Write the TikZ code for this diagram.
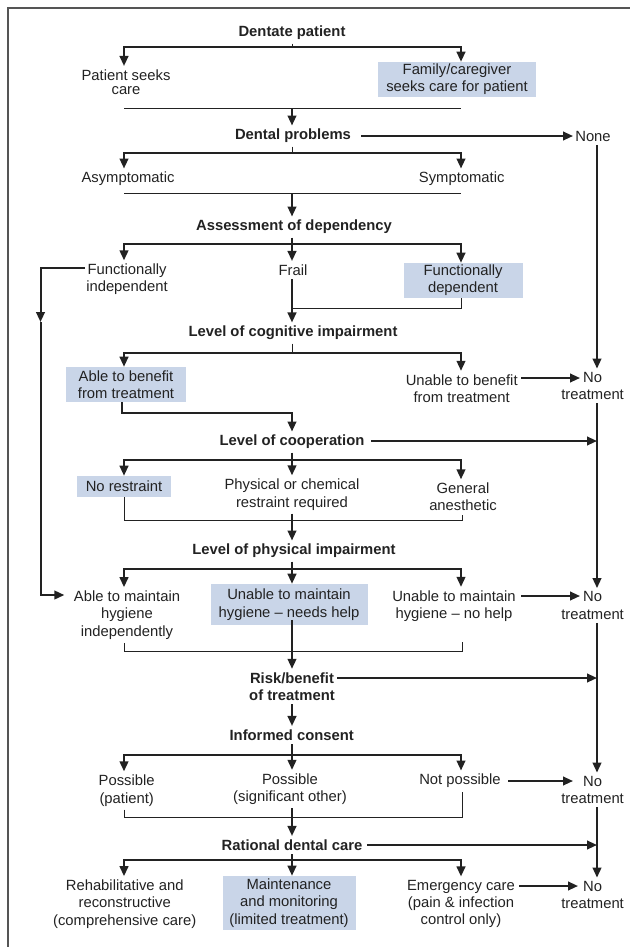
\documentclass[tikz,border=0pt]{standalone}
\usepackage{fontspec}
\setmainfont{Liberation Sans}
\usetikzlibrary{arrows.meta,calc}
\definecolor{hlblue}{HTML}{C9D5E8}
\definecolor{lc}{HTML}{222222}
\definecolor{fc}{HTML}{555555}
\newcommand\fsz{\fontsize{11.1pt}{13pt}\selectfont}
\begin{document}
\begin{tikzpicture}[x=0.75pt,y=-0.75pt,
  >={Triangle[length=7.5pt,width=6.5pt]},
  txt/.style={font=\fsz, align=center, inner xsep=1pt, inner ysep=2.5pt, text=lc},
  bld/.style={txt, font=\fsz\bfseries},
  hl/.style={txt, fill=hlblue, inner sep=0pt},
  thk/.style={line width=1.5pt, draw=lc},
  thn/.style={line width=0.75pt, draw=lc},
  arr/.style={thk, ->}]
\useasboundingbox (0,0) rectangle (630,947);
\draw[line width=1.1pt, draw=fc] (8,947) -- (8,8) -- (630,8);
\coordinate (colx) at (597,0);

% ---------- Level 1
\node[bld] (dp) at (292,33) {Dentate patient};
\node[txt, font=\fontsize{11.1pt}{10.5pt}\selectfont] (ps) at (126,82) {Patient seeks\\care};
\node[hl, minimum width=118.2pt, minimum height=26.25pt] (fam) at (457,79.5) {Family/caregiver\\seeks care for patient};
\coordinate (j1) at (292,47); \coordinate (l1) at (124,47); \coordinate (r1) at (461,47);
\draw[thn] (dp.south -| j1) -- (j1);
\draw[thk,<->] (l1 |- ps.north) -- (l1) -- (r1) -- (r1 |- fam.north);
\coordinate (jl1) at (124,108); \coordinate (jr1) at (461,108); \coordinate (s1) at (292,108);
\draw[thn] (jl1) -- (jr1);

% ---------- Level 2
\node[bld] (dprob) at (293,136) {Dental problems};
\node[txt] (none) at (593,136) {None};
\draw[arr] (s1) -- (dprob.north -| s1);
\coordinate (a0s) at (361,136); \coordinate (a0e) at (573,136);
\draw[arr] (a0s) -- (a0e);
\coordinate (j2) at (292,153); \coordinate (l2) at (124,153); \coordinate (r2) at (461,153);
\draw[thn] (dprob.south -| j2) -- (j2);
\node[txt] (asym) at (128,179) {Asymptomatic};
\node[txt] (sym) at (461.7,179) {Symptomatic};
\draw[thk,<->] (l2 |- asym.north) -- (l2) -- (r2) -- (r2 |- sym.north);
\coordinate (jl2) at (124,193); \coordinate (jr2) at (461,193); \coordinate (s2) at (292,193);
\draw[thn] (jl2) -- (jr2);

% ---------- Level 3
\node[bld] (assess) at (294,227) {Assessment of dependency};
\draw[arr] (s2) -- (assess.north -| s2);
\coordinate (j3) at (292,244); \coordinate (l3) at (124,244); \coordinate (r3) at (461,244);
\draw[thk] (assess.south -| j3) -- (j3);
\node[txt] (fi) at (127,279.5) {Functionally\\independent};
\node[txt] (frail) at (293,270) {Frail};
\node[hl, minimum width=89.25pt, minimum height=26.25pt] (fd) at (463,280.5) {Functionally\\dependent};
\draw[thk,<->] (l3 |- fi.north) -- (l3) -- (r3) -- (r3 |- fd.north);
\draw[arr] (j3) -- (frail.north -| j3);

% left bypass to "Able to maintain hygiene"
\coordinate (fc1) at (40.5,268); \coordinate (fc2) at (40.5,322); \coordinate (fc3) at (40.5,595);

% ---------- Level 4
\node[bld] (cog) at (293,333) {Level of cognitive impairment};
\draw[arr] (frail.south -| j3) -- (cog.north -| j3);
\coordinate (fdk) at (292,308);
\draw[thn] (fd.south -| r3) -- (r3 |- fdk) -- (fdk);
\coordinate (j4) at (292,353); \coordinate (l4) at (124,353); \coordinate (r4) at (461,353);
\draw[thn] (cog.south -| j4) -- (j4);
\node[hl, minimum width=89.9pt, minimum height=26.25pt] (able) at (126,384.5) {Able to benefit\\from treatment};
\node[txt] (unable) at (461.7,388.5) {Unable to benefit\\from treatment};
\node[txt] (nt1) at (592.6,386) {No\\treatment};
\draw[thk,<->] (l4 |- able.north) -- (l4) -- (r4) -- (r4 |- unable.north);
\coordinate (a1s) at (521,378); \coordinate (a1e) at (580,378);
\draw[arr] (a1s) -- (a1e);
\draw[arr] (none.south -| colx) -- (nt1.north -| colx);
\coordinate (aj1) at (122,413); \coordinate (aj2) at (292,413);

% ---------- Level 5
\node[bld] (coop) at (292,442) {Level of cooperation};
\draw[arr] (able.south -| aj1) -- (aj1) -- (aj2) -- (coop.north -| aj2);
\coordinate (a6s) at (371,441);
\draw[arr] (a6s) -- (a6s -| colx);
\coordinate (j5) at (292,460); \coordinate (l5) at (124,460); \coordinate (r5) at (461,460);
\draw[thk] (coop.south -| j5) -- (j5);
\node[hl, minimum width=70.5pt, minimum height=15.75pt] (nores) at (124,486.5) {No restraint};
\node[txt] (phys) at (292,494.5) {Physical or chemical\\restraint required};
\node[txt] (ga) at (463,497) {General\\anesthetic};
\draw[thk,<->] (l5 |- nores.north) -- (l5) -- (r5) -- (r5 |- ga.north);
\draw[arr] (j5) -- (phys.north -| j5);
\coordinate (jl5) at (124,520); \coordinate (jr5) at (462,520);
\draw[thn] (nores.south -| jl5) -- (jl5) -- (jr5) -- (ga.south -| jr5);

% ---------- Level 6
\node[bld] (phy) at (294,551) {Level of physical impairment};
\draw[arr] (phys.south -| j5) -- (phy.north -| j5);
\coordinate (j6) at (292,569); \coordinate (l6) at (124,569); \coordinate (r6) at (461,569);
\draw[thk] (phy.south -| j6) -- (j6);
\node[txt] (atm) at (127,615) {Able to maintain\\hygiene\\independently};
\node[hl, minimum width=117.75pt, minimum height=30.75pt] (unh) at (289,604.5) {Unable to maintain\\hygiene – needs help};
\node[txt] (nh) at (454,606) {Unable to maintain\\hygiene – no help};
\node[txt] (nt2) at (592.6,605.5) {No\\treatment};
\draw[thk,<->] (l6 |- atm.north) -- (l6) -- (r6) -- (r6 |- nh.north);
\draw[arr] (j6) -- (unh.north -| j6);
\draw[arr] (fi.west |- fc1) -- (fc1) -- (fc2);
\draw[arr] (fc2) -- (fc3) -- ([xshift=-6pt]atm.west |- fc3);
\coordinate (a2s) at (521,596); \coordinate (a2e) at (580,596);
\draw[arr] (a2s) -- (a2e);
\draw[thk] (nt1.south -| colx) -- (a6s -| colx);
\draw[arr] (a6s -| colx) -- (nt2.north -| colx);
\coordinate (jl6) at (124,651); \coordinate (jr6) at (462,651); \coordinate (jr6t) at (462,642);
\draw[thn] (atm.south -| jl6) -- (jl6) -- (jr6) -- (jr6t);

% ---------- Level 7
\node[bld] (risk) at (292,686.5) {Risk/benefit\\of treatment};
\draw[arr] ([yshift=4pt]unh.south -| j6) -- (risk.north -| j6);
\coordinate (a3s) at (337,678);
\draw[arr] (a3s) -- (a3s -| colx);
\node[bld] (ic) at (291.7,735) {Informed consent};
\coordinate (j7) at (292,755); \coordinate (l7) at (124,755); \coordinate (r7) at (461,755);
\draw[arr] (risk.south -| j7) -- (ic.north -| j7);
\draw[thk] (ic.south -| j7) -- (j7);
\node[txt] (pp) at (126.7,790.5) {Possible\\(patient)};
\node[txt] (pso) at (290,789) {Possible\\(significant other)};
\node[txt] (np) at (460,781) {Not possible};
\node[txt] (nt3) at (592.6,790) {No\\treatment};
\draw[thk,<->] (l7 |- pp.north) -- (l7) -- (r7) -- (r7 |- np.north);
\draw[arr] (j7) -- (pso.north -| j7);
\coordinate (a4s) at (508,781); \coordinate (a4e) at (573,781);
\draw[arr] (a4s) -- (a4e);
\draw[arr] (nt2.south -| colx) -- (nt3.north -| colx);
\coordinate (jl7) at (124,817); \coordinate (jr7) at (462,817);
\draw[thn] (pp.south -| jl7) -- (jl7) -- (jr7) -- (np.south -| jr7);

% ---------- Level 8
\node[bld] (rdc) at (292,845) {Rational dental care};
\draw[arr] (pso.south -| j7) -- (rdc.north -| j7);
\coordinate (a7s) at (367,845);
\draw[arr] (a7s) -- (a7s -| colx);
\coordinate (j8) at (292,860); \coordinate (l8) at (124,860); \coordinate (r8) at (461,860);
\draw[thk] (rdc.south -| j8) -- (j8);
\node[txt] (rehab) at (124.7,904) {Rehabilitative and\\reconstructive\\(comprehensive care)};
\node[hl, minimum width=99.75pt, minimum height=40.5pt] (maint) at (289,903) {Maintenance\\and monitoring\\(limited treatment)};
\node[txt] (em) at (461,904) {Emergency care\\(pain \& infection\\control only)};
\node[txt] (nt4) at (592.6,895) {No\\treatment};
\draw[thk,<->] (l8 |- rehab.north) -- (l8) -- (r8) -- (r8 |- em.north);
\draw[arr] (j8) -- (maint.north -| j8);
\coordinate (a5s) at (519,886); \coordinate (a5e) at (578,886);
\draw[arr] (a5s) -- (a5e);
\draw[arr] (nt3.south -| colx) -- (nt4.north -| colx);
\end{tikzpicture}
\end{document}
